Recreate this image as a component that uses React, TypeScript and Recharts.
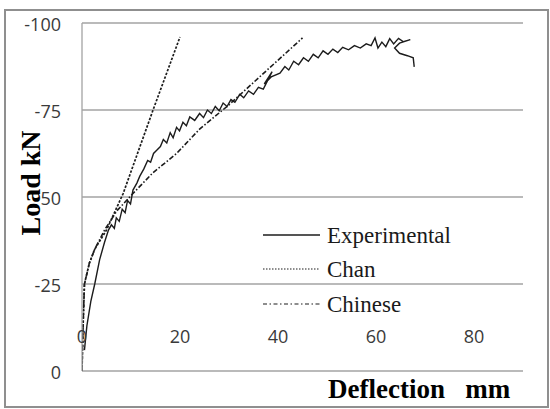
import React from "react";
import { LineChart, Line, XAxis, YAxis, CartesianGrid, Legend } from "recharts";

// ---- data ----
const xTicks = [0, 20, 40, 60, 80];
const yTicks = [-100, -75, -50, -25, 0];
const yTickLabels = ["-100", "-75", "50", "-25", "0"];

const seriesNames = ["Experimental", "Chan", "Chinese"];

const expDefl = [
  0.5, 1.0, 1.8, 2.6, 3.6, 4.6, 5.4, 6.0, 6.6, 7.0, 7.6, 8.2, 8.8, 9.3, 9.9, 10.4, 11.2, 11.8, 12.6, 13.4,
  14.0, 14.6, 15.3, 16.0, 16.6, 17.3, 18.0, 18.6, 19.3, 19.9, 20.6, 21.3, 22.0, 23.0, 24.0, 24.8, 25.6,
  26.4, 27.2, 28.0, 28.8, 29.6, 30.4, 31.2, 32.2, 33.0, 34.0, 35.0, 36.0, 37.0, 38.8, 37.2, 38.6, 40.4,
  41.4, 42.2, 43.2, 44.2, 45.2, 46.2, 47.2, 48.2, 49.2, 50.2, 51.2, 52.2, 53.2, 54.4, 55.6, 56.8, 58.0,
  59.0, 59.8, 60.4, 61.2, 62.0, 62.8, 63.6, 64.6, 65.6, 67.0, 64.8, 63.8, 64.8, 66.4, 67.6, 67.8,
];
const expLoad = [
  -6, -13, -20, -25, -32, -37, -40.5, -42, -41, -44, -43, -46.5, -45.5, -49, -48, -52, -54, -56, -58, -60.5,
  -60, -62.5, -63.5, -64.5, -66.5, -65.5, -68.5, -67, -70, -69, -71.5, -70.5, -73, -72, -74, -72.8, -75,
  -74, -76, -74.8, -77, -76, -78, -77.2, -79.5, -78.5, -80.5, -79.5, -81.5, -81, -86, -82.5, -84.5, -85.6,
  -87.5, -86.5, -89, -88, -90, -89, -91, -90, -92, -91, -92.5, -91.5, -93, -92.3, -93.5, -92.8, -94,
  -93.5, -95.7, -92.8, -94.5, -93.2, -95.5, -94, -95.6, -94.6, -95.2, -94.2, -92.8, -91.3, -90.6, -90, -87.4,
];

const chanDefl = [0, 0.2, 0.5, 1.5, 2.6, 5.0, 8.4, 14.5, 20.0];
const chanLoad = [0, -12, -25, -31, -35, -40.5, -51, -75, -96];

const chinDefl = [0, 0.2, 0.5, 1.5, 2.6, 4.6, 7.1, 10.4, 14.5, 19.3, 24, 30, 37.8, 45];
const chinLoad = [0, -12, -25, -31, -35, -40.5, -46, -51, -57, -62.5, -69.5, -76.5, -86.5, -95.7];

const toPts = (xs: number[], ys: number[]) => xs.map((x, i) => ({ x, y: ys[i] }));
const expData = toPts(expDefl, expLoad);
const chanData = toPts(chanDefl, chanLoad);
const chinData = toPts(chinDefl, chinLoad);

// ---- styles ----
const dashes: Record<string, string | undefined> = {
  Experimental: undefined,
  Chan: "2.5 1.5",
  Chinese: "5 2 1.5 2",
};
const legendDashes: Record<string, string | undefined> = {
  Experimental: undefined,
  Chan: "1.5 1.5",
  Chinese: "4 2.5 1.5 2.5",
};
const lineColor = "#1c1c1c";
const gridColor = "#a3a3a3";
const tickFont = "'Open Sans', sans-serif";
const serif = "'Liberation Serif', 'Times New Roman', serif";

const XTick = (props: any) => {
  const { x, y, payload } = props;
  return (
    <text x={x} y={y - 43} textAnchor="middle" dominantBaseline="central" fontFamily={tickFont} fontSize={18} fill="#3a3a3a">
      {payload.value}
    </text>
  );
};

const YTick = (props: any) => {
  const { x, y, payload } = props;
  const idx = yTicks.indexOf(payload.value);
  return (
    <text x={x - 13} y={y + 1} textAnchor="end" dominantBaseline="central" fontFamily={tickFont} fontSize={18} fill="#3a3a3a">
      {idx >= 0 ? yTickLabels[idx] : payload.value}
    </text>
  );
};

const rowY = [20, 54, 89];
const renderLegend = () => (
  <svg width={230} height={110} style={{ display: "block" }}>
    {seriesNames.map((n, i) => (
      <g key={n}>
        <line x1={8} x2={65} y1={rowY[i]} y2={rowY[i]} stroke={lineColor} strokeWidth={i === 0 ? 1.6 : 1.2} strokeDasharray={legendDashes[n]} />
        <text x={72} y={rowY[i]} dominantBaseline="central" fontFamily={serif} fontSize={23} fill="#1a1a1a">
          {n}
        </text>
      </g>
    ))}
  </svg>
);

export default function App() {
  return (
    <div style={{ position: "absolute", left: 0, top: 0, width: 550, height: 409, background: "#fff" }}>
      <div
        style={{
          position: "absolute",
          left: 4,
          top: 9,
          width: 541,
          height: 395,
          border: "2px solid #8f8f8f",
        }}
      />
      <div style={{ position: "absolute", left: 0, top: 0 }}>
        <LineChart width={550} height={409} margin={{ top: 23, right: 27, left: 0, bottom: 0 }}>
          <CartesianGrid horizontal vertical={false} stroke={gridColor} strokeWidth={1.3} />
          <XAxis
            type="number"
            dataKey="x"
            domain={[0, 90]}
            ticks={xTicks}
            interval={0}
            allowDataOverflow
            axisLine={false}
            tickLine={false}
            height={38}
            tick={<XTick />}
            label={{
              content: () => (
                <text x={328} y={398} fontFamily={serif} fontWeight="bold" fontSize={27} fill="#000" style={{ whiteSpace: "pre" }}>
                  {"Deflection   mm"}
                </text>
              ),
            }}
          />
          <YAxis
            type="number"
            domain={[-100, 0]}
            reversed
            ticks={yTicks}
            interval={0}
            allowDataOverflow
            width={82}
            axisLine={{ stroke: gridColor, strokeWidth: 1.3 }}
            tickLine={false}
            tick={<YTick />}
            label={{
              content: () => (
                <text x={40} y={183} transform="rotate(-90 40 183)" textAnchor="middle" fontFamily={serif} fontWeight="bold" fontSize={28} fill="#000">
                  Load kN
                </text>
              ),
            }}
          />
          <Legend
            layout="vertical"
            align="center"
            verticalAlign="middle"
            content={renderLegend}
            wrapperStyle={{ position: "absolute", left: 255, top: 215, width: 230, height: 110 }}
          />
          <Line data={chanData} dataKey="y" name="Chan" type="linear" dot={false} isAnimationActive={false} stroke={lineColor} strokeWidth={1.7} strokeDasharray={dashes.Chan} />
          <Line data={chinData} dataKey="y" name="Chinese" type="linear" dot={false} isAnimationActive={false} stroke={lineColor} strokeWidth={1.6} strokeDasharray={dashes.Chinese} />
          <Line data={expData} dataKey="y" name="Experimental" type="linear" dot={false} isAnimationActive={false} stroke={lineColor} strokeWidth={1.4} />
        </LineChart>
      </div>
    </div>
  );
}
